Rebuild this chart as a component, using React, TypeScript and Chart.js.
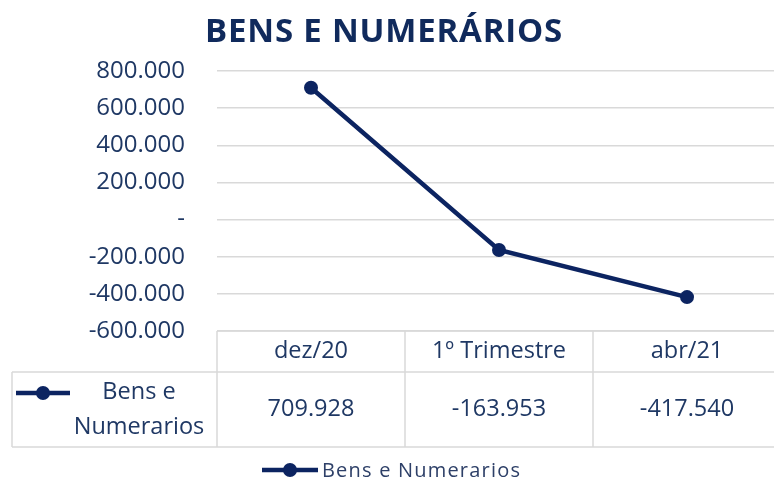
import React, { useEffect, useRef } from "react";
import { Chart, registerables } from "chart.js";

Chart.register(...registerables);

const TITLE = "BENS E NUMERÁRIOS";
const SERIES_NAME = "Bens e Numerarios";
const CATEGORIES = ["dez/20", "1º Trimestre", "abr/21"];
const VALUES = [709928, -163953, -417540];
const Y_MIN = -600000;
const Y_MAX = 800000;
const Y_STEP = 200000;

const NAVY = "#0C2461";
const TEXT = "#1F3864";
const GRID = "#D9D9D9";
const FONT = "'Open Sans', sans-serif";

function fmt(v: number): string {
  if (v === 0) return "-";
  const s = Math.abs(Math.round(v)).toString().replace(/\B(?=(\d{3})+(?!\d))/g, ".");
  return (v < 0 ? "-" : "") + s;
}

const tablePlugin = {
  id: "dataTable",
  afterDraw(chart: any) {
    const ctx = chart.ctx as CanvasRenderingContext2D;
    const area = chart.chartArea;
    const xs = chart.scales.x;
    const top = area.bottom;
    const mid = 372;
    const bot = 447;
    const legLeft = 12;
    ctx.save();
    // title
    ctx.fillStyle = "#102A5C";
    ctx.font = `bold 33px ${FONT}`;
    (ctx as any).letterSpacing = "0.8px";
    ctx.textAlign = "center";
    ctx.textBaseline = "middle";
    ctx.fillText(TITLE, 384, 33);
    (ctx as any).letterSpacing = "0px";

    // table grid
    ctx.strokeStyle = GRID;
    ctx.lineWidth = 1.5;
    const right = area.right;
    const hl = (x1: number, x2: number, y: number) => {
      ctx.beginPath();
      ctx.moveTo(x1, y);
      ctx.lineTo(x2, y);
      ctx.stroke();
    };
    const vl = (x: number, y1: number, y2: number) => {
      ctx.beginPath();
      ctx.moveTo(x, y1);
      ctx.lineTo(x, y2);
      ctx.stroke();
    };
    hl(area.left, right, top);
    hl(legLeft, right, mid);
    hl(legLeft, right, bot);
    vl(legLeft, mid, bot);
    vl(area.left, top, bot);
    for (let i = 0; i < CATEGORIES.length - 1; i++) {
      const b = (xs.getPixelForValue(i) + xs.getPixelForValue(i + 1)) / 2;
      vl(b, top, bot);
    }
    vl(right, top, bot);

    // header + values
    ctx.fillStyle = TEXT;
    ctx.font = `23.5px ${FONT}`;
    ctx.textAlign = "center";
    ctx.textBaseline = "middle";
    CATEGORIES.forEach((c, i) => {
      const x = xs.getPixelForValue(i);
      ctx.fillText(c, x, (top + mid) / 2);
      ctx.fillText(fmt(VALUES[i]), x, (mid + bot) / 2);
    });

    // legend key in table
    const drawKey = (x1: number, x2: number, y: number) => {
      ctx.strokeStyle = NAVY;
      ctx.lineWidth = 4.5;
      ctx.beginPath();
      ctx.moveTo(x1, y);
      ctx.lineTo(x2, y);
      ctx.stroke();
      ctx.fillStyle = NAVY;
      ctx.beginPath();
      ctx.arc((x1 + x2) / 2, y, 7, 0, Math.PI * 2);
      ctx.fill();
    };
    drawKey(16, 70, 393);
    ctx.fillStyle = TEXT;
    ctx.font = `23.5px ${FONT}`;
    ctx.textAlign = "center";
    ctx.fillText("Bens e", 139, 392);
    ctx.fillText("Numerarios", 139, 427);

    // bottom legend
    drawKey(262, 318, 470);
    ctx.fillStyle = "#2E4068";
    ctx.font = `20px ${FONT}`;
    (ctx as any).letterSpacing = "1.2px";
    ctx.textAlign = "left";
    ctx.fillText(SERIES_NAME, 322, 471);
    (ctx as any).letterSpacing = "0px";
    ctx.restore();
  },
};

export default function App() {
  const ref = useRef<HTMLCanvasElement | null>(null);
  useEffect(() => {
    document.body.style.margin = "0";
    document.body.style.overflow = "hidden";
    const canvas = ref.current!;
    const chart = new Chart(canvas, {
      type: "line",
      data: {
        labels: CATEGORIES,
        datasets: [
          {
            label: SERIES_NAME,
            data: VALUES,
            borderColor: NAVY,
            backgroundColor: NAVY,
            borderWidth: 4.5,
            pointRadius: 7,
            pointBackgroundColor: NAVY,
            pointBorderWidth: 0,
            tension: 0,
          },
        ],
      },
      options: {
        responsive: false,
        animation: false,
        layout: { padding: { top: 71, bottom: 152, left: 0, right: 9 } },
        plugins: { legend: { display: false }, title: { display: false }, tooltip: { enabled: false } },
        scales: {
          x: { type: "category", offset: true, display: false },
          y: {
            min: Y_MIN,
            max: Y_MAX,
            afterFit: (s: any) => {
              s.width = 217;
            },
            ticks: {
              stepSize: Y_STEP,
              padding: 32,
              color: TEXT,
              font: { family: FONT, size: 24 },
              callback: (v: any) => fmt(Number(v)),
            },
            grid: { color: GRID, lineWidth: 1.5, drawTicks: false },
            border: { display: false },
          },
        },
      },
      plugins: [tablePlugin],
    });
    return () => chart.destroy();
  }, []);
  return (
    <div style={{ width: 774, height: 483, overflow: "hidden", background: "#fff" }}>
      <canvas ref={ref} width={790} height={483} style={{ display: "block" }} />
    </div>
  );
}
